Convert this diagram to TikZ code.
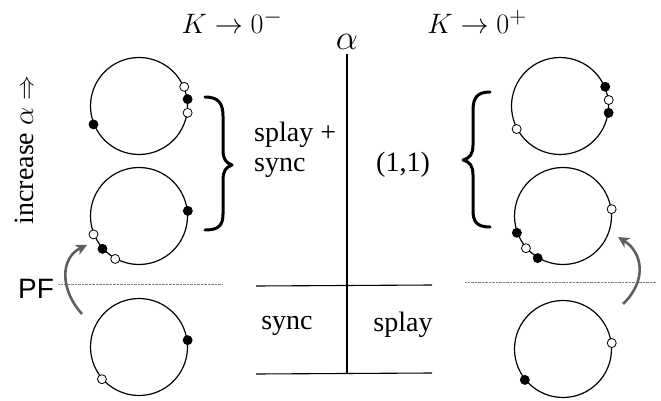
\documentclass[tikz,border=0pt]{standalone}
\usepackage{fontspec}
\setmainfont{Liberation Serif}
\newfontfamily\pfsans{Liberation Sans}
\usetikzlibrary{arrows.meta}
\begin{document}
\begin{tikzpicture}[x=1pt,y=-1pt,
  ring/.style={circle,draw,line width=1.2pt,minimum size=97pt,inner sep=0pt},
  fdot/.style={circle,fill=black,draw=black,line width=0.8pt,minimum size=9pt,inner sep=0pt},
  odot/.style={circle,fill=white,draw=black,line width=0.8pt,minimum size=9pt,inner sep=0pt},
  lbl/.style={font=\fontsize{28}{30}\selectfont,inner sep=0pt},
  mlbl/.style={font=\fontsize{24.88}{28}\selectfont,inner sep=0pt,scale=1.13},
  brace/.style={line width=3pt,line cap=round,line join=round},
  pfarrow/.style={draw={rgb,255:red,95;green,95;blue,95},line width=2.6pt,-{Stealth[length=11pt,width=11pt,inset=3pt]}},
  axis/.style={line width=1.1pt},
  dotline/.style={draw=gray,line width=0.7pt,dash pattern=on 0.8pt off 0.6pt}]
\useasboundingbox (0,0) rectangle (661,401);

% circles
\node[ring] (L1) at (139,106) {};
\node[ring] (L2) at (139,216) {};
\node[ring] (L3) at (139,347) {};
\node[ring] (R1) at (560,106) {};
\node[ring] (R2) at (563,216) {};
\node[ring] (R3) at (563,349) {};

% dots left
\node[odot] at (L1.23) {};
\node[fdot] at (L1.8) {};
\node[odot] at (L1.-8) {};
\node[fdot] at (L1.202) {};
\node[fdot] at (L2.6) {};
\node[odot] at (L2.202) {};
\node[fdot] at (L2.222) {};
\node[odot] at (L2.241) {};
\node[fdot] at (L3.8) {};
\node[odot] at (L3.221) {};
% dots right
\node[fdot] at (R1.23) {};
\node[odot] at (R1.7) {};
\node[fdot] at (R1.-8) {};
\node[odot] at (R1.208) {};
\node[odot] at (R2.8) {};
\node[fdot] at (R2.200) {};
\node[odot] at (R2.221) {};
\node[fdot] at (R2.239) {};
\node[odot] at (R3.7) {};
\node[fdot] at (R3.219) {};

% braces
\draw[brace] (205,97) .. controls (219,97) and (223,104) .. (223,116) -- (223,150)
  .. controls (223,159) and (226,163) .. (232,165) .. controls (226,167) and (223,171) .. (223,180)
  -- (223,214) .. controls (223,225) and (219,230) .. (205,230);
\draw[brace] (490,92) .. controls (476,92) and (473,99) .. (473,111) -- (473,145)
  .. controls (473,154) and (470,158) .. (463,160) .. controls (470,162) and (473,166) .. (473,175)
  -- (473,210) .. controls (473,221) and (476,227) .. (490,227);

% axes
\coordinate (vtop) at (347,54);
\coordinate (vbot) at (347,373);
\coordinate (h1l) at (256,286);
\coordinate (h1r) at (432,285);
\coordinate (h2l) at (256,374);
\coordinate (h2r) at (432,373);
\draw[axis] (vtop) -- (vbot);
\draw[axis] (h1l) -- (h1r);
\draw[axis] (h2l) -- (h2r);

% dotted PF lines
\coordinate (d1l) at (58,284);
\coordinate (d1r) at (223,284);
\coordinate (d2l) at (465,282);
\coordinate (d2r) at (656,282);
\draw[dotline] (d1l) -- (d1r);
\draw[dotline] (d2l) -- (d2r);

% gray arrows
\coordinate (a1s) at (82,314);
\coordinate (a1e) at (87,245);
\coordinate (a2s) at (623,304);
\coordinate (a2e) at (618,237);
\draw[pfarrow] (a1s) .. controls (60,290) and (60,258) .. (a1e);
\draw[pfarrow] (a2s) .. controls (648,280) and (642,252) .. (a2e);

% labels
\node[mlbl] (kminus) at (232,22) {$K\to0^-$};
\node[mlbl] (kplus) at (477,22) {$K\to0^+$};
\node[mlbl,scale=1.25] (alpha) at (347,42) {$\alpha$};
\node[lbl,align=left,anchor=west] (spsy) at (254,150) {splay +\\sync};
\node[lbl] (oneone) at (403,165) {(1,1)};
\node[lbl] (sync) at (287,326) {sync};
\node[lbl] (splay) at (403,325) {splay};
\node[lbl,rotate=90] (incr) at (24,150) {increase \scalebox{1.15}{$\alpha$} $\Rightarrow$};
\node[font=\pfsans\fontsize{28}{30}\selectfont,inner sep=0pt] (pf) at (36,289) {PF};
\end{tikzpicture}
\end{document}
